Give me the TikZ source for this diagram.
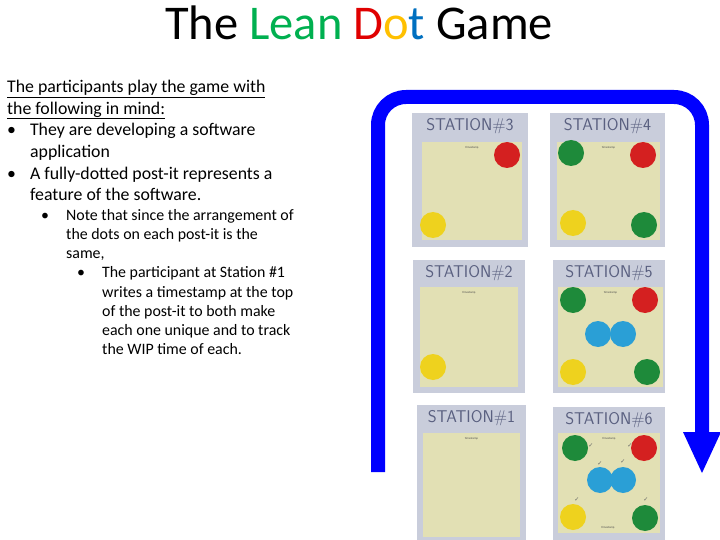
\documentclass[tikz,border=0pt]{standalone}
\usepackage{fontspec}
\setmainfont{Carlito}
\newfontfamily\dejavu{DejaVu Sans}
\definecolor{lgreen}{HTML}{00B050}
\definecolor{lred}{HTML}{E00000}
\definecolor{lyel}{HTML}{FFC000}
\definecolor{lblue}{HTML}{0070C0}
\definecolor{card}{HTML}{C9CDDB}
\definecolor{paper}{HTML}{E2E0B4}
\definecolor{dred}{HTML}{D42020}
\definecolor{dgreen}{HTML}{1E8A3A}
\definecolor{dyel}{HTML}{EED21E}
\definecolor{dblue}{HTML}{2A9FD6}
\definecolor{ink}{HTML}{5A6080}
\begin{document}
\begin{tikzpicture}[x=1pt,y=-1pt,
  dot/.style={circle,minimum size=26pt,inner sep=0pt},
  hdr/.style={font=\fontsize{17}{17}\selectfont\sffamily,text=ink,anchor=center},
  stamp/.style={font=\fontsize{3}{3}\selectfont,text=black!70},
  chk/.style={font=\dejavu\fontsize{6}{6}\selectfont,text=black!60},
  body/.style={anchor=north west,align=left,inner sep=0pt}]
\useasboundingbox (0,0) rectangle (720,540);
\fill[white] (0,0) rectangle (720,540);
\node (title) at (359,23) {\fontsize{48.5}{48}\selectfont The \textcolor{lgreen}{Lean} \textcolor{lred}{D}\textcolor{lyel}{o}\textcolor{lblue}{t} Game};
\node[body,font=\fontsize{17.8}{21.6}\selectfont] (t1) at (7,80) {\underline{The participants play the game with}\\\underline{the following in mind:}};
\node[body,font=\fontsize{17.8}{21.6}\selectfont] (t2) at (7,123.3) {\textbullet\hspace{14pt}They are developing a software\\\hspace{23pt}application\\\textbullet\hspace{14pt}A fully-dotted post-it represents a\\\hspace{23pt}feature of the software.};
\node[body,font=\fontsize{15.9}{19.3}\selectfont] (t3) at (41,209) {\textbullet\hspace{17pt}Note that since the arrangement of\\\hspace{25pt}the dots on each post-it is the\\\hspace{25pt}same,};
\node[body,font=\fontsize{15.9}{19.3}\selectfont] (t4) at (77,266.5) {\textbullet\hspace{17pt}The participant at Station \#1\\\hspace{25pt}writes a timestamp at the top\\\hspace{25pt}of the post-it to both make\\\hspace{25pt}each one unique and to track\\\hspace{25pt}the WIP time of each.};
\draw[blue,line width=14pt,rounded corners=28pt] (378,472) -- (378,97) -- (702,97) -- (702,432);
\fill[blue] (683,432) -- (721,432) -- (702,473) -- cycle;
\foreach \n/\a/\b/\c/\d/\e/\f/\g/\h in {3/412/113/528/247/422/142/522/240, 4/550/113/665/247/557/142/660/240, 2/413/260/525/393/420/287/518/387, 5/553/260/665/393/558/287/663/387, 1/417/405/526/540/423/433/520/537, 6/553/407/665/540/558/433/660/533}{
  \fill[card] (\a,\b) rectangle (\c,\d);
  \fill[paper] (\e,\f) rectangle (\g,\h);
  \node[hdr] (h\n) at ({(\a+\c)/2},{\b+13}) {STATION\#\n};
  \node[stamp] (s\n) at ({(\e+\g)/2},{\f+6}) {timestamp};
}
\node[dot,fill=dred] (d3r) at (507,155) {};
\node[dot,fill=dyel] (d3y) at (433,225) {};
\node[dot,fill=dgreen] (d4g) at (571,153) {};
\node[dot,fill=dred] (d4r) at (643,155) {};
\node[dot,fill=dyel] (d4y) at (573,223) {};
\node[dot,fill=dgreen] (d4g2) at (644,225) {};
\node[dot,fill=dyel] (d2y) at (433,367) {};
\node[dot,fill=dgreen] (d5g) at (573,300) {};
\node[dot,fill=dred] (d5r) at (645,300) {};
\node[dot,fill=dblue] (d5b) at (598,334) {};
\node[dot,fill=dblue] (d5b2) at (623,334) {};
\node[dot,fill=dyel] (d5y) at (573,372) {};
\node[dot,fill=dgreen] (d5g2) at (647,372) {};
\node[dot,fill=dgreen] (d6g) at (575,448) {};
\node[dot,fill=dred] (d6r) at (644,448) {};
\node[dot,fill=dblue] (d6b) at (600,480) {};
\node[dot,fill=dblue] (d6b2) at (623,480) {};
\node[dot,fill=dyel] (d6y) at (573,517) {};
\node[dot,fill=dgreen] (d6g2) at (645,518) {};
\node[stamp] (s6b) at (608,528) {timestamp};
\node[chk] (c1) at (591,446) {✓};
\node[chk] (c2) at (630,446) {✓};
\node[chk] (c3) at (600,464) {✓};
\node[chk] (c4) at (623,462) {✓};
\node[chk] (c5) at (577,500) {✓};
\node[chk] (c6) at (646,500) {✓};
\end{tikzpicture}
\end{document}
